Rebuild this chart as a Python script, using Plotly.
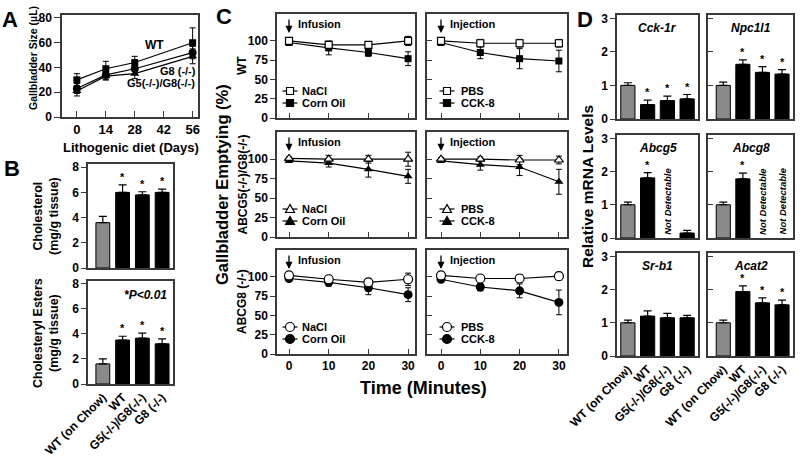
import plotly.graph_objects as go

W, H = 800, 457
FONT = "Arial, Liberation Sans, Helvetica, sans-serif"
LC = "#3a3a3a"
GRAY = "#8a8a8a"

# ---------------- Data ----------------
# Panel A
a_days = [0, 14, 28, 56]
a_ticks = [0, 14, 28, 42, 56]
a_wt = [30, 39, 44, 60]
a_wt_err = [5, 6, 5, 12]
a_g8 = [23, 34, 39, 52]
a_g8_err = [4, 4, 4, 5]
a_g5g8 = [21, 33, 35, 49]
a_g5g8_err = [4, 3, 4, 6]

# Panel B
groups = ["WT (on Chow)", "WT", "G5(-/-)/G8(-/-)", "G8 (-/-)"]
b_chol = [3.6, 6.0, 5.8, 6.0]
b_chol_err = [0.5, 0.6, 0.25, 0.25]
b_ce = [1.6, 3.5, 3.65, 3.2]
b_ce_err = [0.4, 0.3, 0.4, 0.4]
b_sig = [False, True, True, True]

# Panel C (time in minutes, % emptying)
c_time = [0, 10, 20, 30]
c_wt_nacl = [100, 95, 95, 100];  c_wt_nacl_err = [2, 4, 4, 6]
c_wt_corn = [98, 91, 85, 77];    c_wt_corn_err = [2, 9, 5, 9]
c_wt_pbs = [100, 97, 97, 97];    c_wt_pbs_err = [2, 5, 5, 5]
c_wt_cck = [98, 85, 77, 74];     c_wt_cck_err = [2, 8, 13, 14]
c_g5g8_nacl = [101, 100, 100, 100]; c_g5g8_nacl_err = [2, 5, 5, 9]
c_g5g8_corn = [98, 95, 87, 78];     c_g5g8_corn_err = [2, 5, 10, 9]
c_g5g8_pbs = [100, 100, 99, 99];    c_g5g8_pbs_err = [2, 3, 6, 5]
c_g5g8_cck = [98, 93, 90, 71];      c_g5g8_cck_err = [2, 7, 11, 16]
c_g8_nacl = [102, 97, 93, 97];   c_g8_nacl_err = [2, 5, 4, 8]
c_g8_corn = [98, 93, 86, 77];    c_g8_corn_err = [2, 5, 9, 9]
c_g8_pbs = [102, 98, 98, 101];   c_g8_pbs_err = [2, 3, 5, 5]
c_g8_cck = [97, 87, 82, 67];     c_g8_cck_err = [2, 5, 9, 16]

# Panel D (relative mRNA levels; None = not detectable)
d_genes = ["Cck-1r", "Npc1l1", "Abcg5", "Abcg8", "Sr-b1", "Acat2"]
d_cck1r = [1.0, 0.43, 0.55, 0.6];   d_cck1r_err = [0.08, 0.13, 0.13, 0.13]
d_npc1l1 = [1.0, 1.63, 1.39, 1.34]; d_npc1l1_err = [0.1, 0.13, 0.17, 0.13]
d_abcg5 = [1.0, 1.81, None, 0.15];  d_abcg5_err = [0.08, 0.16, 0, 0.08]
d_abcg8 = [1.0, 1.78, None, None];  d_abcg8_err = [0.08, 0.17, 0, 0]
d_srb1 = [1.0, 1.2, 1.15, 1.15];    d_srb1_err = [0.08, 0.16, 0.13, 0.07]
d_acat2 = [1.0, 1.94, 1.6, 1.54];   d_acat2_err = [0.08, 0.17, 0.15, 0.14]
d_sig_cck1r = [False, True, True, True]
d_sig_npc1l1 = [False, True, True, True]
d_sig_abcg5 = [False, True, False, False]
d_sig_abcg8 = [False, True, False, False]
d_sig_srb1 = [False, False, False, False]
d_sig_acat2 = [False, True, True, True]

# ---------------- Helpers ----------------
def fx(p):
    return p / W

def fy(p):
    return 1 - p / H

def bf(size, **kw):
    d = dict(family=FONT, size=size, color="black", weight="bold")
    d.update(kw)
    return d

layout = dict(
    width=W, height=H,
    margin=dict(l=0, r=0, t=0, b=0, pad=0, autoexpand=False),
    paper_bgcolor="white", plot_bgcolor="white", showlegend=False,
    font=bf(11),
)
annotations = []
shapes = []
traces = []


def sfx(i):
    return "" if i == 1 else str(i)


def mk_axes(i, xpx, ypx, xr, yr, xopts=None, yopts=None):
    s = sfx(i)
    common = dict(showline=True, linecolor=LC, linewidth=1.5, mirror=True,
                  showgrid=False, zeroline=False, tickcolor=LC, tickwidth=1.3,
                  fixedrange=True, automargin=False)
    xa = dict(common, domain=[fx(xpx[0]), fx(xpx[1])], range=xr, anchor="y" + s)
    xa.update(xopts or {})
    ya = dict(common, domain=[fy(ypx[1]), fy(ypx[0])], range=yr, anchor="x" + s)
    ya.update(yopts or {})
    layout["xaxis" + s] = xa
    layout["yaxis" + s] = ya


def text(x, y, t, size=12, angle=0, xanchor="center", yanchor="middle", **fk):
    annotations.append(dict(x=fx(x), y=fy(y), xref="paper", yref="paper", text=t,
                            showarrow=False, textangle=angle, xanchor=xanchor,
                            yanchor=yanchor, font=bf(size, **fk)))


# ---------------- Panel A ----------------
mk_axes(1, (62, 198), (15, 117), [-7.2, 58.6], [0, 82.4],
        dict(tickvals=a_ticks, ticks="inside", ticklen=6, tickfont=bf(13)),
        dict(tickvals=[0, 20, 40, 60, 80], ticks="outside", ticklen=6, tickfont=bf(12)))
for ys, es, sym, sz in [(a_g5g8, a_g5g8_err, "triangle-up", 8), (a_g8, a_g8_err, "circle", 8),
                        (a_wt, a_wt_err, "square", 7)]:
    traces.append(go.Scatter(x=a_days, y=ys, mode="lines+markers", xaxis="x", yaxis="y",
                             line=dict(color="black", width=1.2),
                             marker=dict(symbol=sym, size=sz, color="black"),
                             error_y=dict(type="data", array=es, color="black", thickness=1, width=3)))
text(154, 45, "WT", 12)
text(178, 71, "G8 (-/-)", 11)
text(161, 83, "G5(-/-)/G8(-/-)", 11)
text(33, 58, "Gallbladder Size (µL)", 10.5, angle=-90)
text(131, 147, "Lithogenic diet (Days)", 13)
text(10, 19, "A", 22)

# ---------------- Panel B ----------------
bx = list(range(len(groups)))
bcolors = [GRAY, "black", "black", "black"]
mk_axes(2, (88, 173), (164, 268), [-0.75, 3.55], [0, 8.25],
        dict(showticklabels=False, ticks=""),
        dict(tickvals=[0, 2, 4, 6, 8], ticks="outside", ticklen=5, tickfont=bf(12)))
mk_axes(3, (88, 173), (281, 384), [-0.75, 3.55], [0, 8.2],
        dict(tickvals=bx, ticktext=groups, ticks="", tickangle=-45, tickfont=bf(12)),
        dict(tickvals=[0, 2, 4, 6, 8], ticks="outside", ticklen=5, tickfont=bf(12)))
for i, vals, errs in [(2, b_chol, b_chol_err), (3, b_ce, b_ce_err)]:
    s = sfx(i)
    traces.append(go.Bar(x=bx, y=vals, width=0.7, xaxis="x" + s, yaxis="y" + s,
                         marker=dict(color=bcolors, line=dict(color="black", width=1)),
                         error_y=dict(type="data", array=errs, arrayminus=[0] * 4, symmetric=False,
                                      color="black", thickness=1.2, width=4)))
    for k in bx:
        if b_sig[k]:
            annotations.append(dict(x=k, y=vals[k] + errs[k], xref="x" + s, yref="y" + s, text="*",
                                    showarrow=False, yanchor="bottom", font=bf(11)))
text(46, 216, "Cholesterol<br>(mg/g tissue)", 12.5, angle=-90)
text(46, 333, "Cholesteryl Esters<br>(mg/g tissue)", 12.5, angle=-90)
text(145, 295, "*P<0.01", 12, style="italic")
text(12, 168, "B", 22)

# ---------------- Panel C ----------------
c_cols = [(277, 415, 289, 3.97), (427, 567, 441, 3.93)]   # frame px, px of t=0, px per minute
c_rows = [(14, 118), (132, 237), (250, 354)]
c_sets = [
    [(c_wt_nacl, c_wt_nacl_err, c_wt_corn, c_wt_corn_err, "NaCl", "Corn Oil"),
     (c_wt_pbs, c_wt_pbs_err, c_wt_cck, c_wt_cck_err, "PBS", "CCK-8")],
    [(c_g5g8_nacl, c_g5g8_nacl_err, c_g5g8_corn, c_g5g8_corn_err, "NaCl", "Corn Oil"),
     (c_g5g8_pbs, c_g5g8_pbs_err, c_g5g8_cck, c_g5g8_cck_err, "PBS", "CCK-8")],
    [(c_g8_nacl, c_g8_nacl_err, c_g8_corn, c_g8_corn_err, "NaCl", "Corn Oil"),
     (c_g8_pbs, c_g8_pbs_err, c_g8_cck, c_g8_cck_err, "PBS", "CCK-8")],
]
c_symbols = ["square", "triangle-up", "circle"]
c_sizes = [7, 8, 9]
c_rowlabels = ["WT", "ABCG5(-/-)/G8(-/-)", "ABCG8 (-/-)"]
c_events = ["Infusion", "Injection"]


def glyph(xc, yc, sym, filled, r):
    fill = "black" if filled else "white"
    shapes.append(dict(type="line", xref="paper", yref="paper", x0=fx(xc - 7.5), x1=fx(xc + 7.5),
                       y0=fy(yc), y1=fy(yc), line=dict(color="black", width=1.2)))
    if sym == "square":
        shapes.append(dict(type="rect", xref="paper", yref="paper", x0=fx(xc - r), x1=fx(xc + r),
                           y0=fy(yc + r), y1=fy(yc - r), fillcolor=fill, line=dict(color="black", width=1.2)))
    elif sym == "circle":
        shapes.append(dict(type="circle", xref="paper", yref="paper", x0=fx(xc - r), x1=fx(xc + r),
                           y0=fy(yc + r), y1=fy(yc - r), fillcolor=fill, line=dict(color="black", width=1.2)))
    else:
        p = "M %f,%f L %f,%f L %f,%f Z" % (fx(xc), fy(yc - r - 0.5), fx(xc - r - 0.5), fy(yc + r - 0.5),
                                          fx(xc + r + 0.5), fy(yc + r - 0.5))
        shapes.append(dict(type="path", xref="paper", yref="paper", path=p, fillcolor=fill,
                           line=dict(color="black", width=1.2)))


idx = 4
for r, (ytop, ybot) in enumerate(c_rows):
    for c, (xl, xrgt, x0px, pxper) in enumerate(c_cols):
        s = sfx(idx)
        xr = [(xl - x0px) / pxper, (xrgt - x0px) / pxper]
        left = c == 0
        bottom = r == 2
        mk_axes(idx, (xl, xrgt), (ytop, ybot), xr, [0, 135],
                dict(tickvals=c_time, ticks="inside", ticklen=5, showticklabels=bottom, tickfont=bf(12)),
                dict(tickvals=[0, 25, 50, 75, 100], ticks="outside" if left else "inside", ticklen=5,
                     showticklabels=left, tickfont=bf(12)))
        y1, e1, y2, e2, n1, n2 = c_sets[r][c]
        sym = c_symbols[r]
        sz = c_sizes[r]
        traces.append(go.Scatter(x=c_time, y=y2, mode="lines+markers", xaxis="x" + s, yaxis="y" + s,
                                 line=dict(color="black", width=1.2),
                                 marker=dict(symbol=sym, size=sz, color="black"),
                                 error_y=dict(type="data", array=e2, color="black", thickness=1, width=3)))
        traces.append(go.Scatter(x=c_time, y=y1, mode="lines+markers", xaxis="x" + s, yaxis="y" + s,
                                 line=dict(color="black", width=1.2),
                                 marker=dict(symbol=sym, size=sz, color="white",
                                             line=dict(color="black", width=1.2)),
                                 error_y=dict(type="data", array=e1, color="black", thickness=1, width=3)))
        # event arrow + label
        annotations.append(dict(x=0, y=fy(ytop + 19), xref="x" + s, yref="paper", text="",
                                showarrow=True, ax=0, ay=-15, arrowhead=2, arrowsize=1.1,
                                arrowwidth=1.3, arrowcolor="black"))
        text(x0px + 7, ytop + 10, c_events[c], 11, xanchor="left")
        # legend glyphs
        lx = xl + 13 if left else xl + 20
        tx = xl + 23 if left else xl + 32
        r_m = 3.5 if sym == "square" else (4.5 if sym == "circle" else 4)
        glyph(lx, ytop + 77, sym, False, r_m)
        glyph(lx, ytop + 89, sym, True, r_m)
        text(tx, ytop + 77, n1, 11, xanchor="left")
        text(tx, ytop + 89, n2, 11, xanchor="left")
        idx += 1
    text(242, (ytop + ybot) / 2, c_rowlabels[r], 12, angle=-90)

text(222, 185, "Gallbladder Emptying (%)", 16.5, angle=-90)
text(423, 388, "Time (Minutes)", 18)
text(224, 17, "C", 22)

# ---------------- Panel D ----------------
d_cols = [((617, 698), [-0.55, 3.55]), ((708, 793), [-0.78, 3.56])]
d_rows = [(15, 119), (135, 238), (253, 356)]
d_vals = [d_cck1r, d_npc1l1, d_abcg5, d_abcg8, d_srb1, d_acat2]
d_errs = [d_cck1r_err, d_npc1l1_err, d_abcg5_err, d_abcg8_err, d_srb1_err, d_acat2_err]
d_sigs = [d_sig_cck1r, d_sig_npc1l1, d_sig_abcg5, d_sig_abcg8, d_sig_srb1, d_sig_acat2]
g = 0
for r, (ytop, ybot) in enumerate(d_rows):
    for c, (xpx, xr) in enumerate(d_cols):
        s = sfx(idx)
        left = c == 0
        bottom = r == 2
        mk_axes(idx, xpx, (ytop, ybot), xr, [0, 3.1],
                dict(tickvals=bx, ticktext=groups, ticks="", showticklabels=bottom, tickangle=-45,
                     tickfont=bf(12)),
                dict(tickvals=[0, 1, 2, 3], ticks="outside" if left else "inside", ticklen=5,
                     showticklabels=left, tickfont=bf(12)))
        vals, errs, sig = d_vals[g], d_errs[g], d_sigs[g]
        traces.append(go.Bar(x=bx, y=vals, width=0.72, xaxis="x" + s, yaxis="y" + s,
                             marker=dict(color=bcolors, line=dict(color="black", width=1)),
                             error_y=dict(type="data", array=errs, arrayminus=[0] * 4, symmetric=False,
                                          color="black", thickness=1.2, width=4)))
        for k in bx:
            if vals[k] is None:
                annotations.append(dict(x=k, y=1.1, xref="x" + s, yref="y" + s, text="Not Detectable",
                                        showarrow=False, textangle=-90,
                                        font=bf(9.5, style="italic")))
            elif sig[k]:
                annotations.append(dict(x=k, y=vals[k] + errs[k], xref="x" + s, yref="y" + s, text="*",
                                        showarrow=False, yanchor="bottom", font=bf(11)))
        text((xpx[0] + xpx[1]) / 2, ytop + 13, d_genes[g], 12, style="italic")
        g += 1
        idx += 1

text(587, 187, "Relative mRNA Levels", 15.5, angle=-90)
text(585, 19, "D", 22)

layout["annotations"] = annotations
layout["shapes"] = shapes
fig = go.Figure(data=traces, layout=layout)
fig.write_html("out.html", config={"displayModeBar": False},
               post_script="document.body.style.margin='0px';")
